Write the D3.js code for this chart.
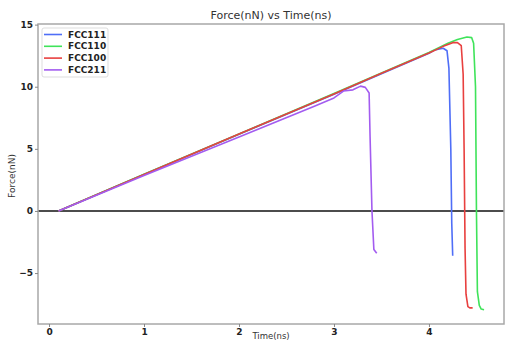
<!DOCTYPE html>
<html>
<head>
<meta charset="utf-8">
<script src="https://cdn.jsdelivr.net/npm/d3@7"></script>
<style>
  html, body { margin: 0; padding: 0; background: #fff; }
  svg { display: block; font-family: "DejaVu Sans", sans-serif; }
</style>
</head>
<body>
<svg width="506" height="342"></svg>
<script>
// series: [time (ns), force (nN)]
const fcc111 = [[0.1, 0], [1, 2.93], [2, 6.18], [3, 9.4], [3.5, 11.05], [4.0, 12.7], [4.06, 12.95],
    [4.15, 13.1], [4.19, 12.9], [4.21, 11.5], [4.23, 5], [4.24, -1], [4.25, -3.6]];
const fcc110 = [[0.1, 0], [1, 2.95], [2, 6.2], [3, 9.45], [3.5, 11.1], [4.0, 12.75], [4.2, 13.5],
    [4.3, 13.8], [4.4, 14.0], [4.45, 13.95], [4.47, 13.5], [4.49, 10], [4.5, 0],
    [4.51, -6.5], [4.53, -7.6], [4.55, -7.9], [4.58, -7.95]];
const fcc100 = [[0.1, 0], [1, 2.94], [2, 6.19], [3, 9.42], [3.5, 11.08], [4.0, 12.72], [4.15, 13.25],
    [4.25, 13.55], [4.3, 13.55], [4.34, 13.3], [4.36, 11], [4.37, 5], [4.38, -3],
    [4.39, -6.7], [4.41, -7.7], [4.43, -7.8], [4.46, -7.8]];
const fcc211 = [[0.1, 0], [1, 2.85], [2, 5.95], [2.8, 8.45], [3, 9.1], [3.1, 9.65], [3.2, 9.75], [3.28, 10.05],
    [3.33, 9.95], [3.37, 9.5], [3.38, 6], [3.4, 0], [3.42, -3.1], [3.45, -3.4]];

const names = ["FCC111", "FCC110", "FCC100", "FCC211"];
const colors = ["#4f6ef7", "#3fe35a", "#e8403f", "#a35cf0"];
const series = [fcc111, fcc110, fcc100, fcc211];

const xTicks = [0, 1, 2, 3, 4];
const yTicks = [-5, 0, 5, 10, 15];

const svg = d3.select("svg");
const margin = {top: 24, right: 2, bottom: 18, left: 38};
const width = 506, height = 342;

const x = d3.scaleLinear().domain([-0.116, 4.79]).range([margin.left, width - margin.right]);
const y = d3.scaleLinear().domain([-9.1, 15.05]).range([height - margin.bottom, margin.top]);

// zero line
svg.append("line")
    .attr("x1", x.range()[0]).attr("x2", x.range()[1])
    .attr("y1", y(0)).attr("y2", y(0))
    .attr("stroke", "#111").attr("stroke-width", 1.5);

const line = d3.line().x(d => x(d[0])).y(d => y(d[1]));

svg.append("g")
    .selectAll("path")
    .data(series)
    .join("path")
    .attr("d", line)
    .attr("fill", "none")
    .attr("stroke", (d, i) => colors[i])
    .attr("stroke-width", 1.6)
    .attr("stroke-linejoin", "round");

// frame
svg.append("rect")
    .attr("x", x.range()[0]).attr("y", y.range()[1])
    .attr("width", x.range()[1] - x.range()[0])
    .attr("height", y.range()[0] - y.range()[1])
    .attr("fill", "none")
    .attr("stroke", "#a8a8a8").attr("stroke-width", 1.5);

const xAxis = svg.append("g")
    .attr("transform", `translate(0,${y.range()[0]})`)
    .call(d3.axisBottom(x).tickValues(xTicks).tickSize(3).tickPadding(2).tickFormat(d3.format("d")));
const yAxis = svg.append("g")
    .attr("transform", `translate(${x.range()[0]},0)`)
    .call(d3.axisLeft(y).tickValues(yTicks).tickSize(3).tickPadding(2)
        .tickFormat(d => d < 0 ? "\u2212" + Math.abs(d) : d));

[xAxis, yAxis].forEach(g => {
    g.select(".domain").remove();
    g.selectAll(".tick line").attr("stroke", "#888");
    g.selectAll(".tick text")
        .attr("font-size", 9).attr("font-weight", "bold")
        .attr("font-family", "DejaVu Sans, sans-serif").attr("fill", "#222");
});

svg.append("text")
    .attr("x", (x.range()[0] + x.range()[1]) / 2).attr("y", 19)
    .attr("text-anchor", "middle").attr("font-size", 11).attr("fill", "#333")
    .text("Force(nN) vs Time(ns)");

svg.append("text")
    .attr("x", (x.range()[0] + x.range()[1]) / 2).attr("y", 339)
    .attr("text-anchor", "middle").attr("font-size", 8.5).attr("fill", "#333")
    .text("Time(ns)");

svg.append("text")
    .attr("transform", `translate(15,${(y.range()[0] + y.range()[1]) / 2 + 2}) rotate(-90)`)
    .attr("text-anchor", "middle").attr("font-size", 9).attr("fill", "#333")
    .text("Force(nN)");

// legend
const legend = svg.append("g").attr("transform", "translate(42,28)");
legend.append("rect")
    .attr("width", 66).attr("height", 49)
    .attr("fill", "#fff").attr("stroke", "#ddd").attr("rx", 2);
const item = legend.selectAll("g.item")
    .data(names)
    .join("g")
    .attr("class", "item")
    .attr("transform", (d, i) => `translate(0,${6.5 + i * 11.8})`);
item.append("line")
    .attr("x1", 2).attr("x2", 20)
    .attr("stroke", (d, i) => colors[i]).attr("stroke-width", 1.6);
item.append("text")
    .attr("x", 26).attr("dy", "0.35em")
    .attr("font-size", 9).attr("font-weight", "bold").attr("fill", "#222")
    .text(d => d);
</script>
</body>
</html>
